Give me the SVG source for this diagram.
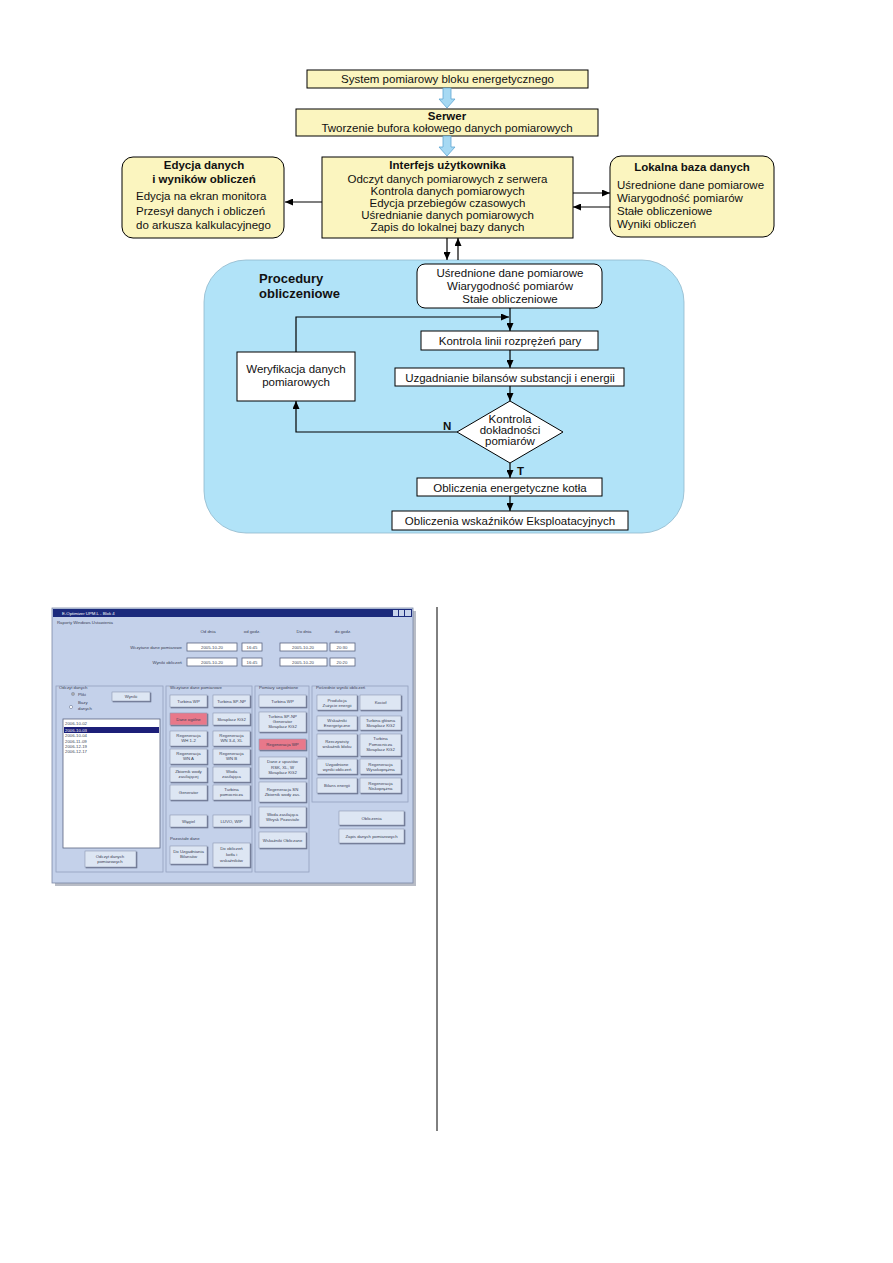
<svg xmlns="http://www.w3.org/2000/svg" width="893" height="1263" viewBox="0 0 893 1263">
<defs>
<style>
.box{fill:#fbf5bf;stroke:#000;stroke-width:1}
.wbox{fill:#fff;stroke:#000;stroke-width:1}
.t{font-family:"Liberation Sans",Arial,sans-serif;font-size:11.5px;fill:#111}
.c{text-anchor:middle}
.b{font-weight:bold}
.ln{stroke:#000;stroke-width:1.2;fill:none}
.blue{fill:#a6d9f3;stroke:#5fa6d2;stroke-width:0.8}
.s{font-family:"Liberation Sans",Arial,sans-serif;font-size:4.3px;fill:#3a3f55}
.btn{fill:#dde6f3;stroke:#8f9ab4;stroke-width:0.6;filter:url(#sh)}
.red{fill:#e8788a;stroke:#8f9ab4;stroke-width:0.6;filter:url(#sh)}
.fld{fill:#fff;stroke:#5a6480;stroke-width:0.8}
.grp{fill:none;stroke:#93a1bf;stroke-width:0.8}
</style>
<filter id="sh" x="-10%" y="-10%" width="130%" height="140%">
<feDropShadow dx="0.9" dy="0.9" stdDeviation="0.2" flood-color="#4f5a75" flood-opacity="0.9"/>
</filter>
<marker id="ah" viewBox="0 0 8 7" refX="8" refY="3.5" markerWidth="8" markerHeight="7" markerUnits="userSpaceOnUse" orient="auto">
<path d="M0,0 L8,3.5 L0,7 z" fill="#000"/>
</marker>
</defs>
<rect width="893" height="1263" fill="#fff"/>

<g id="procedury-panel">
<rect x="204" y="260" width="480" height="273" rx="42" ry="42" fill="#b1e3f8" stroke="#8fb8cc" stroke-width="0.8"/>
<text class="t b" x="259" y="283" style="font-size:13px">Procedury</text>
<text class="t b" x="259" y="298" style="font-size:13px">obliczeniowe</text>
</g>

<g id="system">
<rect class="box" x="307" y="70" width="281" height="18"/>
<text class="t c" x="447.5" y="83">System pomiarowy bloku energetycznego</text>
</g>
<g id="serwer">
<rect class="box" x="296" y="109" width="302" height="27"/>
<text class="t c b" x="447" y="120">Serwer</text>
<text class="t c" x="447" y="132">Tworzenie bufora kołowego danych pomiarowych</text>
</g>
<g id="interfejs">
<rect class="box" x="322" y="157" width="251" height="81"/>
<text class="t c b" x="447.5" y="169">Interfejs użytkownika</text>
<text class="t c" x="447.5" y="183">Odczyt danych pomiarowych z serwera</text>
<text class="t c" x="447.5" y="195">Kontrola danych pomiarowych</text>
<text class="t c" x="447.5" y="207">Edycja przebiegów czasowych</text>
<text class="t c" x="447.5" y="219">Uśrednianie danych pomiarowych</text>
<text class="t c" x="447.5" y="231">Zapis do lokalnej bazy danych</text>
</g>
<g id="edycja">
<rect class="box" x="122" y="157" width="162" height="81" rx="11" ry="11"/>
<text class="t c b" x="204" y="169">Edycja danych</text>
<text class="t c b" x="204" y="183">i wyników obliczeń</text>
<text class="t" x="136" y="200">Edycja na ekran monitora</text>
<text class="t" x="136" y="215">Przesył danych i obliczeń</text>
<text class="t" x="136" y="229">do arkusza kalkulacyjnego</text>
</g>
<g id="lokalna">
<rect class="box" x="610" y="156" width="164" height="81" rx="11" ry="11"/>
<text class="t c b" x="692" y="171">Lokalna baza danych</text>
<text class="t" x="617" y="189">Uśrednione dane pomiarowe</text>
<text class="t" x="617" y="202">Wiarygodność pomiarów</text>
<text class="t" x="617" y="215">Stałe obliczeniowe</text>
<text class="t" x="617" y="228">Wyniki obliczeń</text>
</g>

<g id="usrednione">
<rect class="wbox" x="417" y="264" width="185" height="44" rx="8" ry="8"/>
<text class="t c" x="510" y="277">Uśrednione dane pomiarowe</text>
<text class="t c" x="510" y="290">Wiarygodność pomiarów</text>
<text class="t c" x="510" y="303">Stałe obliczeniowe</text>
</g>
<g id="kontrola-linii">
<rect class="wbox" x="421" y="331" width="177" height="19"/>
<text class="t c" x="510" y="345">Kontrola linii rozprężeń pary</text>
</g>
<g id="uzgadnianie">
<rect class="wbox" x="395" y="368" width="229" height="18"/>
<text class="t c" x="510" y="382">Uzgadnianie bilansów substancji i energii</text>
</g>
<g id="kontrola-dokladnosci">
<polygon class="wbox" points="510,401 563,432 510,463 457,432"/>
<text class="t c" x="510" y="423">Kontrola</text>
<text class="t c" x="510" y="434">dokładności</text>
<text class="t c" x="510" y="445">pomiarów</text>
</g>
<g id="weryfikacja">
<rect class="wbox" x="237" y="352" width="118" height="49"/>
<text class="t c" x="296" y="373">Weryfikacja danych</text>
<text class="t c" x="296" y="386">pomiarowych</text>
</g>
<g id="obliczenia-kotla">
<rect class="wbox" x="417" y="478" width="185" height="18"/>
<text class="t c" x="510" y="492">Obliczenia energetyczne kotła</text>
</g>
<g id="obliczenia-wskaznikow">
<rect class="wbox" x="392" y="511" width="236" height="19"/>
<text class="t c" x="510" y="525">Obliczenia wskaźników Eksploatacyjnych</text>
</g>

<g id="connectors">
<polygon class="blue" points="443,88 451,88 451,99 455,99 447,108 439,99 443,99"/>
<polygon class="blue" points="443,136 451,136 451,147 455,147 447,156 439,147 443,147"/>
<line class="ln" x1="322" y1="202" x2="285" y2="202" marker-end="url(#ah)"/>
<line class="ln" x1="573" y1="193" x2="610" y2="193" marker-end="url(#ah)"/>
<line class="ln" x1="610" y1="207" x2="573" y2="207" marker-end="url(#ah)"/>
<line class="ln" x1="447" y1="238" x2="447" y2="260" marker-end="url(#ah)"/>
<line class="ln" x1="458" y1="260" x2="458" y2="238" marker-end="url(#ah)"/>
<line class="ln" x1="510" y1="308" x2="510" y2="331" marker-end="url(#ah)"/>
<polyline class="ln" points="296,352 296,317 509,317" marker-end="url(#ah)"/>
<line class="ln" x1="510" y1="350" x2="510" y2="368" marker-end="url(#ah)"/>
<line class="ln" x1="510" y1="386" x2="510" y2="401" marker-end="url(#ah)"/>
<polyline class="ln" points="457,432 296,432 296,401" marker-end="url(#ah)"/>
<text class="t b" x="443" y="430">N</text>
<line class="ln" x1="510" y1="463" x2="510" y2="478" marker-end="url(#ah)"/>
<text class="t b" x="517" y="475">T</text>
<line class="ln" x1="510" y1="496" x2="510" y2="511" marker-end="url(#ah)"/>
</g>

<g id="screenshot">
<rect x="55" y="611" width="361" height="275" fill="#b8bcc6"/>
<rect x="52" y="608" width="361" height="275" fill="#c4d1ea" stroke="#7c88a6" stroke-width="0.8"/>
<rect x="53" y="609" width="359" height="8" fill="#1b2a7c"/>
<text class="s" x="62" y="615" style="fill:#fff">E-Optimizer UPM.L - Blok 4</text>
<rect x="393" y="610" width="5" height="6" fill="#c8d4ec"/>
<rect x="399" y="610" width="5" height="6" fill="#c8d4ec"/>
<rect x="405" y="610" width="6" height="6" fill="#c8d4ec"/>
<text class="s" x="57" y="624">Raporty    Windows    Ustawienia</text>

<text class="s c" x="208" y="633">Od dnia</text>
<text class="s c" x="252" y="633">od godz.</text>
<text class="s c" x="304" y="633">Do dnia</text>
<text class="s c" x="343" y="633">do godz.</text>
<text class="s" x="182" y="649" text-anchor="end">Wczytane dane pomiarowe</text>
<text class="s" x="182" y="664" text-anchor="end">Wyniki obliczeń</text>
<rect class="fld" x="187" y="643" width="50" height="8"/><text class="s c" x="212" y="649">2005-10-20</text>
<rect class="fld" x="242" y="643" width="20" height="8"/><text class="s c" x="252" y="649">16:45</text>
<rect class="fld" x="280" y="643" width="47" height="8"/><text class="s c" x="303" y="649">2005-10-20</text>
<rect class="fld" x="330" y="643" width="25" height="8"/><text class="s c" x="342" y="649">20:30</text>
<rect class="fld" x="187" y="658" width="50" height="8"/><text class="s c" x="212" y="664">2005-10-20</text>
<rect class="fld" x="242" y="658" width="20" height="8"/><text class="s c" x="252" y="664">16:45</text>
<rect class="fld" x="280" y="658" width="47" height="8"/><text class="s c" x="303" y="664">2005-10-20</text>
<rect class="fld" x="330" y="658" width="25" height="8"/><text class="s c" x="342" y="664">20:20</text>

<rect class="grp" x="56" y="686" width="107" height="186"/>
<rect class="grp" x="166" y="686" width="86" height="186"/>
<rect class="grp" x="255" y="686" width="54" height="186"/>
<rect class="grp" x="312" y="686" width="96" height="116"/>
<text class="s" x="59" y="689">Odczyt danych</text>
<text class="s" x="170" y="689">Wczytane dane pomiarowe</text>
<text class="s" x="259" y="689">Pomiary uzgodnione</text>
<text class="s" x="316" y="689">Pośrednie wyniki obliczeń</text>

<circle cx="73" cy="694" r="1.6" fill="#fff" stroke="#5a6480" stroke-width="0.5"/>
<circle cx="73" cy="694" r="0.7" fill="#222"/>
<text class="s" x="78" y="696">Pliki</text>
<circle cx="71" cy="707" r="1.6" fill="#fff" stroke="#5a6480" stroke-width="0.5"/>
<text class="s" x="78" y="704">Bazy</text>
<text class="s" x="78" y="710">danych</text>
<rect class="btn" x="112" y="692" width="38" height="9"/><text class="s c" x="131" y="698">Wyniki</text>

<rect x="63" y="719" width="97" height="129" fill="#fff" stroke="#5a6480" stroke-width="0.8"/>
<rect x="64" y="727" width="95" height="6" fill="#1d1f78"/>
<text class="s" x="65" y="725">2006-10-02</text>
<text class="s" x="65" y="731.5" style="fill:#fff">2006-10-03</text>
<text class="s" x="65" y="737">2006-10-04</text>
<text class="s" x="65" y="742.5">2006-11-09</text>
<text class="s" x="65" y="748">2006-12-19</text>
<text class="s" x="65" y="753">2006-12-17</text>
<rect class="btn" x="85" y="851" width="51" height="16"/>
<text class="s c" x="110" y="858">Odczyt danych</text>
<text class="s c" x="110" y="863">pomiarowych</text>

<g id="grp1-buttons">
<rect class="btn" x="170" y="695" width="37" height="12"/><text class="s c" x="188.5" y="702.5">Turbina WP</text>
<rect class="btn" x="213" y="695" width="37" height="12"/><text class="s c" x="231.5" y="702.5">Turbina SP-NP</text>
<rect class="red" x="170" y="713" width="37" height="12"/><text class="s c" x="188.5" y="720.5">Dane ogólne</text>
<rect class="btn" x="213" y="713" width="37" height="12"/><text class="s c" x="231.5" y="720.5">Skraplacz KG2</text>
<rect class="btn" x="170" y="731" width="37" height="15"/><text class="s c" x="188.5" y="737">Regeneracja</text><text class="s c" x="188.5" y="742">WH 1-2</text>
<rect class="btn" x="213" y="731" width="37" height="15"/><text class="s c" x="231.5" y="737">Regeneracja</text><text class="s c" x="231.5" y="742">WN 3-4, XL</text>
<rect class="btn" x="170" y="749" width="37" height="15"/><text class="s c" x="188.5" y="755">Regeneracja</text><text class="s c" x="188.5" y="760">WN A</text>
<rect class="btn" x="213" y="749" width="37" height="15"/><text class="s c" x="231.5" y="755">Regeneracja</text><text class="s c" x="231.5" y="760">WN B</text>
<rect class="btn" x="170" y="767" width="37" height="15"/><text class="s c" x="188.5" y="773">Zbiornik wody</text><text class="s c" x="188.5" y="778">zasilającej</text>
<rect class="btn" x="213" y="767" width="37" height="15"/><text class="s c" x="231.5" y="773">Woda</text><text class="s c" x="231.5" y="778">zasilająca</text>
<rect class="btn" x="170" y="785" width="37" height="15"/><text class="s c" x="188.5" y="794">Generator</text>
<rect class="btn" x="213" y="785" width="37" height="15"/><text class="s c" x="231.5" y="791">Turbina</text><text class="s c" x="231.5" y="796">pomocnicza</text>
<rect class="btn" x="170" y="815" width="37" height="12"/><text class="s c" x="188.5" y="822.5">Węgiel</text>
<rect class="btn" x="213" y="815" width="37" height="12"/><text class="s c" x="231.5" y="822.5">LUVO, WIP</text>
<text class="s" x="170" y="840">Pozostałe dane</text>
<rect class="btn" x="170" y="846" width="37" height="18"/><text class="s c" x="188.5" y="853">Do Uzgadniania</text><text class="s c" x="188.5" y="858">Bilansów</text>
<rect class="btn" x="213" y="843" width="37" height="24"/><text class="s c" x="231.5" y="850">Do obliczeń</text><text class="s c" x="231.5" y="856">kotła i</text><text class="s c" x="231.5" y="862">wskaźników</text>
</g>

<g id="grp2-buttons">
<rect class="btn" x="259" y="695" width="47" height="12"/><text class="s c" x="282.5" y="702.5">Turbina WP</text>
<rect class="btn" x="259" y="712" width="47" height="20"/><text class="s c" x="282.5" y="718">Turbina SP-NP</text><text class="s c" x="282.5" y="723">Generator</text><text class="s c" x="282.5" y="728">Skraplacz KG2</text>
<rect class="red" x="259" y="739" width="47" height="11"/><text class="s c" x="282.5" y="746">Regeneracja WP</text>
<rect class="btn" x="259" y="757" width="47" height="21"/><text class="s c" x="282.5" y="763">Dane z upustów</text><text class="s c" x="282.5" y="768.5">RSK, XL, W</text><text class="s c" x="282.5" y="774">Skraplacz KG2</text>
<rect class="btn" x="259" y="782" width="47" height="20"/><text class="s c" x="282.5" y="791">Regeneracja SN</text><text class="s c" x="282.5" y="796">Zbiornik wody zas.</text>
<rect class="btn" x="259" y="807" width="47" height="20"/><text class="s c" x="282.5" y="816">Woda zasilająca</text><text class="s c" x="282.5" y="821">Wtrysk  Pozostałe</text>
<rect class="btn" x="259" y="832" width="47" height="16"/><text class="s c" x="282.5" y="841.5">Wskaźniki Obliczane</text>
</g>

<g id="grp3-buttons">
<rect class="btn" x="317" y="695" width="40" height="15"/><text class="s c" x="337" y="701.5">Produkcja</text><text class="s c" x="337" y="706.5">Zużycie energii</text>
<rect class="btn" x="360" y="695" width="41" height="15"/><text class="s c" x="380.5" y="704">Kocioł</text>
<rect class="btn" x="317" y="716" width="40" height="14"/><text class="s c" x="337" y="722">Wskaźniki</text><text class="s c" x="337" y="727">Energetyczne</text>
<rect class="btn" x="360" y="716" width="41" height="14"/><text class="s c" x="380.5" y="722">Turbina główna</text><text class="s c" x="380.5" y="727">Skraplacz KG2</text>
<rect class="btn" x="317" y="734" width="40" height="22"/><text class="s c" x="337" y="743">Rzeczywisty</text><text class="s c" x="337" y="748">wskaźnik bloku</text>
<rect class="btn" x="360" y="734" width="41" height="22"/><text class="s c" x="380.5" y="740">Turbina</text><text class="s c" x="380.5" y="745.5">Pomocnicza</text><text class="s c" x="380.5" y="751">Skraplacz KG2</text>
<rect class="btn" x="317" y="759" width="40" height="15"/><text class="s c" x="337" y="765.5">Uzgodnione</text><text class="s c" x="337" y="770.5">wyniki obliczeń</text>
<rect class="btn" x="360" y="759" width="41" height="15"/><text class="s c" x="380.5" y="765.5">Regeneracja</text><text class="s c" x="380.5" y="770.5">Wysokoprężna</text>
<rect class="btn" x="317" y="778" width="40" height="15"/><text class="s c" x="337" y="787">Bilans energii</text>
<rect class="btn" x="360" y="778" width="41" height="15"/><text class="s c" x="380.5" y="784.5">Regeneracja</text><text class="s c" x="380.5" y="789.5">Niskoprężna</text>
<rect class="btn" x="339" y="811" width="65" height="14"/><text class="s c" x="371.5" y="819.5">Obliczenia</text>
<rect class="btn" x="339" y="829" width="65" height="14"/><text class="s c" x="371.5" y="837.5">Zapis danych pomiarowych</text>
</g>
</g>

<line x1="437" y1="607" x2="437" y2="1131" stroke="#000" stroke-width="1"/>
</svg>
